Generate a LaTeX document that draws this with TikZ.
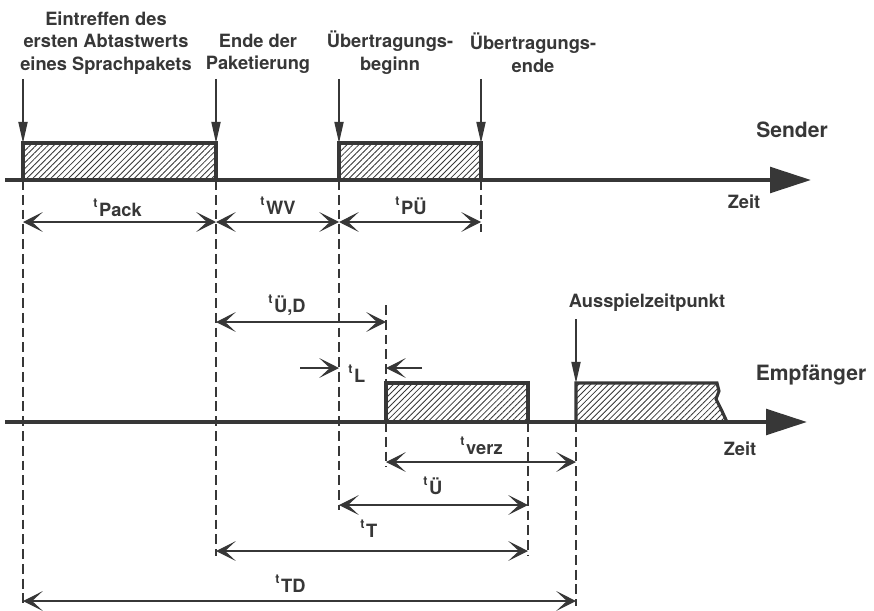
\documentclass[tikz,border=0pt]{standalone}
\usepackage{fontspec}
\setmainfont{TeX Gyre Heros}
\usetikzlibrary{arrows.meta,patterns.meta,calc}
\definecolor{ink}{RGB}{55,55,55}
\newcommand{\tdur}[1]{{\fontsize{9}{9}\selectfont t}\kern1.2pt\raisebox{-7.1pt}{#1}}

\begin{document}
\begin{tikzpicture}[x=0.025cm, y=-0.025cm, color=ink,
    font=\bfseries\fontsize{13}{16}\selectfont,
    timeaxis/.style={line width=3pt, -{Triangle[length=29pt,width=18pt]}},
    packet/.style={line width=2.2pt, pattern={Lines[angle=45,distance=3pt,line width=0.6pt]}, pattern color=ink},
    event/.style={line width=1pt, -{Triangle[length=15pt,width=6.5pt]}},
    span/.style={line width=0.9pt, {Stealth[length=14pt,width=14pt,inset=7.5pt]}-{Stealth[length=14pt,width=14pt,inset=7.5pt]}},
    halfspan/.style={line width=0.9pt, -{Stealth[length=14pt,width=14pt,inset=7.5pt]}},
    guide/.style={line width=0.8pt, dash pattern=on 7pt off 3.5pt},
    lbl/.style={inner sep=0pt, align=center},
    dur/.style={inner sep=0pt, anchor=base west}]
\useasboundingbox (0,0) rectangle (874,611);
% time points on the sender axis
\coordinate (sA) at (23,180);
\coordinate (sB) at (216,180);
\coordinate (sC) at (339,180);
\coordinate (sD) at (481,180);
% time points on the receiver axis
\coordinate (rE) at (386,422);
\coordinate (rF) at (528,422);
\coordinate (rG) at (576,422);
% heights of packets, event arrows and dimension rows
\coordinate (hS) at (0,143);
\coordinate (hR) at (0,383);
\coordinate (hEv) at (0,79);
\coordinate (yPack) at (0,222);
\coordinate (yUD) at (0,322);
\coordinate (yL) at (0,368);
\coordinate (yVerz) at (0,462);
\coordinate (yU) at (0,505);
\coordinate (yT) at (0,551);
\coordinate (yTD) at (0,601);

% dashed guides
\foreach \p/\e in {sA/606, sB/556, sC/510, sD/232}
    \draw[guide] (\p) -- (\p |- 0,\e);
\draw[guide] (rE |- 0,305) -- (rE |- hR);
\foreach \p/\e in {rE/467, rF/556, rG/606}
    \draw[guide] (\p) -- (\p |- 0,\e);

% packets
\draw[packet] (sA) rectangle (sB |- hS);
\draw[packet] (sC) rectangle (sD |- hS);
\draw[packet] (rE) rectangle (rF |- hR);
\draw[packet] (rG) -- (rG |- hR) -- (717,383) -- (719,391) -- (716,399) -- (721,409) -- (727,422) -- cycle;

% time axes
\draw[timeaxis] (5,180) -- (811,180);
\draw[timeaxis] (5,422) -- (807,422);

% events
\foreach \p in {sA,sB,sC,sD}
    \draw[event] (\p |- hEv) -- (\p |- hS);
\draw[event] (rG |- 0,319) -- (rG |- hR);

\node[lbl] (evFirst) at (106,43) {Eintreffen des\\ersten Abtastwerts\\eines Sprachpakets};
\node[lbl] (evPack) at (258,54) {Ende der\\Paketierung};
\node[lbl] (evBegin) at (390,52.5) {Übertragungs-\\beginn};
\node[lbl] (evEnd) at (533,52.5) {Übertragungs-\\ende};
\node[lbl, anchor=base] (play) at (647,307) {Ausspielzeitpunkt};
\node[lbl, anchor=base, font=\bfseries\fontsize{15}{18}\selectfont] (sender) at (792,137) {Sender};
\node[lbl, anchor=base, font=\bfseries\fontsize{15}{18}\selectfont] (receiver) at (811,380) {Empfänger};
\node[lbl, anchor=base] (timeS) at (744,208) {Zeit};
\node[lbl, anchor=base] (timeR) at (740,455) {Zeit};

% durations
\draw[span] (sA |- yPack) -- (sB |- yPack);
\draw[span] (sB |- yPack) -- (sC |- yPack);
\draw[span] (sC |- yPack) -- (sD |- yPack);
\draw[span] (sB |- yUD) -- (rE |- yUD);
\draw[halfspan] (300,368) -- (sC |- yL);
\draw[halfspan] (422,368) -- (rE |- yL);
\draw[span] (rE |- yVerz) -- (rG |- yVerz);
\draw[span] (sC |- yU) -- (rF |- yU);
\draw[span] (sB |- yT) -- (rF |- yT);
\draw[span] (sA |- yTD) -- (rG |- yTD);

\node[dur] (dPack) at (93,207) {\tdur{Pack}};
\node[dur] (dWV) at (260,205) {\tdur{WV}};
\node[dur] (dPU) at (395,205) {\tdur{PÜ}};
\node[dur] (dUD) at (268,303) {\tdur{Ü,D}};
\node[dur] (dL) at (348,373) {\tdur{L}};
\node[dur] (dVerz) at (460,445) {\tdur{verz}};
\node[dur] (dU) at (423,485) {\tdur{Ü}};
\node[dur] (dT) at (360,528) {\tdur{T}};
\node[dur] (dTD) at (275,583) {\tdur{TD}};
\end{tikzpicture}
\end{document}
